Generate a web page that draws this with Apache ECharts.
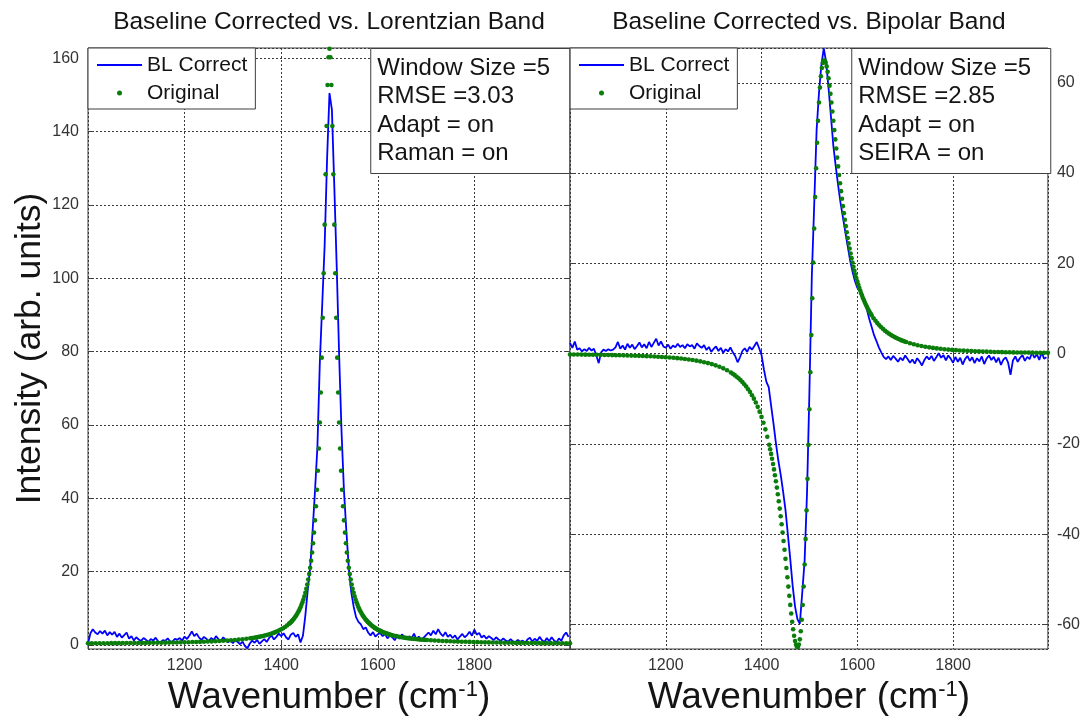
<!DOCTYPE html>
<html>
<head>
<meta charset="utf-8">
<title>Baseline correction: Lorentzian and bipolar bands</title>
<script src="https://cdn.jsdelivr.net/npm/echarts@6.0.0/dist/echarts.min.js"></script>
<style>
  html, body { margin: 0; padding: 0; background: #ffffff; }
  #chart { width: 1083px; height: 723px; }
</style>
</head>
<body>
<div id="chart"></div>
<script>
// Wavenumbers (cm^-1) of the baseline-corrected traces
const blueWn = [
  1000,1005,1010,1015,1020,1025,1030,1035,1040,1045,1050,1055,1060,1065,1070,1075,1080,1085,1090,1095,
  1100,1105,1110,1115,1120,1125,1130,1135,1140,1145,1150,1155,1160,1165,1170,1175,1180,1185,1190,1195,
  1200,1205,1210,1215,1220,1225,1230,1235,1240,1245,1250,1255,1260,1265,1270,1275,1280,1285,1290,1295,
  1300,1305,1310,1315,1320,1325,1330,1335,1340,1345,1350,1355,1360,1365,1370,1375,1380,1385,1390,1395,
  1400,1405,1410,1415,1420,1425,1430,1435,1440,1445,1450,1455,1460,1465,1470,1475,1480,1485,1490,1495,
  1500,1505,1510,1515,1520,1525,1530,1535,1540,1545,1550,1555,1560,1565,1570,1575,1580,1585,1590,1595,
  1600,1605,1610,1615,1620,1625,1630,1635,1640,1645,1650,1655,1660,1665,1670,1675,1680,1685,1690,1695,
  1700,1705,1710,1715,1720,1725,1730,1735,1740,1745,1750,1755,1760,1765,1770,1775,1780,1785,1790,1795,
  1800,1805,1810,1815,1820,1825,1830,1835,1840,1845,1850,1855,1860,1865,1870,1875,1880,1885,1890,1895,
  1900,1905,1910,1915,1920,1925,1930,1935,1940,1945,1950,1955,1960,1965,1970,1975,1980,1985,1990,1995
];

// Baseline-corrected Raman spectrum (Lorentzian band)
const lorCorrected = [
  0.4,3.2,4.3,3.4,2.9,3.8,3.1,3.9,2.6,3.5,2.8,3.6,2.2,3.1,2.0,2.7,3.4,1.7,2.4,1.2,
  2.1,1.5,1.1,1.9,1.4,0.8,1.6,1.2,2.0,1.0,0.6,1.3,1.1,1.8,1.0,0.9,1.7,1.4,1.9,1.2,
  2.3,1.6,2.6,3.7,2.4,3.1,2.0,1.4,2.2,1.7,1.0,1.9,1.3,2.4,1.6,1.1,2.1,1.4,0.7,1.2,
  0.5,1.3,0.8,0.2,0.9,-0.3,-0.9,0.4,1.2,0.6,1.4,0.3,1.0,1.6,0.8,1.9,2.6,1.5,2.2,3.1,
  2.4,3.2,2.1,1.5,2.8,3.3,2.2,2.9,0.7,2.5,8,15,21,31,42,54,77,93,109,132.5,
  150.5,146,125,103,79,58,42,31,21,14.5,10.5,7.6,6.3,5.6,4.3,4.8,3.4,2.6,3.5,2.3,
  2.9,3.3,2.4,3.0,1.8,2.6,2.1,1.3,2.5,1.7,2.9,2.2,1.5,2.4,1.8,3.1,1.6,2.3,1.2,2.0,
  2.7,3.4,2.6,3.9,2.9,4.3,3.1,2.4,3.5,2.2,2.8,1.9,2.6,1.5,2.3,3.0,2.1,2.7,3.6,2.5,
  4.2,2.8,3.3,2.0,2.6,1.7,2.4,1.9,1.3,2.1,1.5,1.1,1.8,1.2,0.9,1.6,1.0,0.7,1.4,0.8,
  1.2,0.6,1.5,2.0,0.9,1.7,1.1,2.2,1.3,0.8,1.9,1.0,2.1,1.2,0.7,1.8,1.1,2.6,3.4,2.2
];

// Baseline-corrected SEIRA spectrum (bipolar band)
const bipCorrected = [
  2.4,1.3,2.7,0.9,1.2,0.5,1.0,0.6,1.3,0.7,1.1,-0.4,-2.1,0.3,0.9,0.6,1.0,0.7,0.9,1.4,
  2.6,1.1,1.8,0.9,2.2,1.3,2.0,1.0,1.7,2.5,1.4,2.1,1.2,2.6,1.5,2.4,3.3,1.8,2.7,1.6,
  1.3,2.0,1.1,1.8,1.4,2.2,1.5,1.9,1.2,2.1,1.6,1.9,1.1,2.3,1.7,1.3,1.9,0.8,1.5,0.4,
  1.1,1.6,0.6,1.3,0.2,1.0,0.5,1.4,0.3,-0.5,-1.9,-0.8,0.6,1.2,0.4,1.5,0.9,1.7,2.6,1.2,
  -0.3,-3.5,-6.2,-7.4,-11.5,-15.5,-19.8,-23.6,-26.8,-30.5,-34.6,-40,-45.5,-51.4,-56,-58.8,-59.8,-53,-45.8,-30.8,
  -8.5,17,33,49.5,57.8,64,67.6,64.5,58.8,52.5,46,41.5,37.3,33.4,30.2,27,23.8,20.6,18.2,16.1,
  14.6,13.9,13.0,11.6,9.8,7.7,5.9,4.1,2.8,1.4,0.3,-0.7,-1.2,-0.6,-1.4,-0.5,-1.1,-1.8,-0.9,-1.5,
  -0.4,-1.2,-2.0,-1.3,-2.2,-1.0,-1.7,-2.6,-1.4,-0.6,-1.3,-0.5,-1.6,-0.8,0.1,-0.9,-0.3,-1.5,-0.4,-1.1,
  -2.0,-0.7,-1.8,-0.9,-2.4,-1.2,-0.5,-1.6,-0.8,-2.1,-1.0,-1.7,-0.6,-2.3,-1.1,-0.4,-1.4,-0.7,-1.9,-0.9,
  -2.5,-1.3,-0.8,-2.0,-4.7,-1.5,-0.6,-1.8,-0.9,-0.3,-1.6,-0.7,-1.2,0.2,-0.9,-0.1,-1.4,0.3,-1.1,-0.8
];

// Wavenumbers (cm^-1) of the original (uncorrected) spectra, denser across the bands
const origWn = [
  1000,1008,1016,1024,1032,1040,1048,1056,1064,1072,1080,1088,1096,1104,1112,1120,1128,1136,1144,1152,
  1160,1168,1176,1184,1192,1200,1208,1216,1224,1232,1240,1248,1256,1264,1272,1280,1288,1296,1304,1312,
  1320,1328,1336,
  1340,1344,1348,1352,1356,1360,1364,1368,1372,1376,1380,1384,1388,1392,1396,1400,1404,1408,1412,1416,
  1418,1420,1422,1424,1426,1428,1430,1432,1434,1436,1438,1440,1442,1444,1446,1448,1450,1452,1454,1456,
  1458,1460,1462,1464,1466,1468,1470,1472,1474,1476,1478,1480,1482,1484,1486,1488,1490,1492,1494,1496,
  1498,1500,1502,1504,1506,1508,1510,1512,1514,1516,1518,1520,1522,1524,1526,1528,1530,1532,1534,1536,
  1538,1540,1542,1544,1546,1548,1550,1552,1554,1556,1558,1560,1562,1564,1566,1568,1570,1572,1574,1576,
  1578,1580,1582,1584,1586,1588,1590,1592,1594,1596,1598,1600,1602,1604,1606,1608,1610,1612,1614,1616,
  1618,1620,1622,1624,1626,1628,1630,
  1634,1638,1642,1646,1650,1654,1658,1662,1666,1670,1674,1678,1682,1686,1690,1694,1698,
  1702,1710,1718,1726,1734,1742,1750,1758,1766,1774,1782,1790,1798,1806,1814,1822,1830,1838,1846,1854,
  1862,1870,1878,1886,1894,1902,1910,1918,1926,1934,1942,1950,1958,1966,1974,1982,1990,1998
];

// Original Raman spectrum (Lorentzian band)
const lorOriginal = [
  0.45,0.46,0.47,0.47,0.48,0.48,0.49,0.50,0.50,0.51,0.52,0.53,0.54,0.55,0.56,0.57,0.58,0.59,0.60,0.62,
  0.63,0.65,0.67,0.69,0.71,0.73,0.76,0.79,0.82,0.85,0.89,0.93,0.97,1.02,1.08,1.14,1.21,1.29,1.37,1.47,
  1.57,1.69,1.82,
  1.9,1.98,2.07,2.17,2.27,2.38,2.5,2.63,2.77,2.93,3.1,3.29,3.5,3.73,3.98,4.26,4.57,4.92,5.31,5.76,
  5.95,6.2,6.5,6.8,7.1,7.5,7.85,8.25,8.7,9.2,9.7,10.3,10.95,11.65,12.4,13.3,14.25,15.3,16.5,17.85,19.35,
  21.03,22.98,25.2,27.73,30.64,33.98,37.84,42.31,47.52,53.58,60.65,68.86,78.36,89.22,101.39,114.63,128.34,141.51,152.69,160.29,
  162.6,
  160.29,152.69,141.51,128.34,114.63,101.39,89.22,78.36,68.86,60.65,53.58,47.52,42.31,37.84,33.98,30.64,27.73,25.2,22.98,21.03,
  19.35,17.85,16.5,15.3,14.25,13.3,12.4,11.65,10.95,10.3,9.7,9.2,8.7,8.25,7.85,7.5,7.1,6.8,6.5,6.2,5.95,
  5.7,5.46,5.24,5.03,4.84,4.66,4.49,4.33,4.17,4.03,3.9,3.77,3.65,3.53,3.42,3.32,3.22,3.13,3.04,2.96,2.87,2.8,2.72,2.65,
  2.52,2.4,2.29,2.19,2.1,2.01,1.93,1.86,1.79,1.73,1.67,1.61,1.56,1.5,1.46,1.42,1.38,
  1.34,1.27,1.2,1.15,1.1,1.05,1.0,0.96,0.92,0.89,0.86,0.83,0.8,0.77,0.74,0.72,0.7,0.68,0.66,0.64,
  0.62,0.6,0.59,0.57,0.56,0.55,0.54,0.53,0.52,0.51,0.5,0.49,0.49,0.48,0.47,0.47,0.46,0.46
];

// Original SEIRA spectrum (bipolar band)
const bipOriginal = [
  -0.18,-0.19,-0.19,-0.2,-0.21,-0.23,-0.24,-0.25,-0.26,-0.28,-0.29,-0.31,-0.33,-0.35,-0.37,-0.39,-0.42,-0.45,-0.48,-0.51,
  -0.54,-0.58,-0.63,-0.67,-0.72,-0.78,-0.84,-0.91,-0.99,-1.08,-1.17,-1.28,-1.41,-1.54,-1.7,-1.88,-2.08,-2.31,-2.58,-2.89,
  -3.25,-3.67,-4.17,
  -4.45,-4.75,-5.09,-5.45,-5.85,-6.28,-6.76,-7.28,-7.86,-8.49,-9.19,-9.96,-10.82,-11.77,-12.83,-14.0,-15.3,-16.76,-18.38,-20.18,
  -21.16,-22.19,-23.28,-24.43,-25.63,-26.91,-28.25,-29.66,-31.13,-32.68,-34.31,-36.0,-37.76,-39.59,-41.48,-43.43,-45.43,-47.46,-49.52,-51.58,
  -53.63,-55.63,-57.55,-59.36,-61.01,-62.45,-63.63,-64.48,-64.94,
  -64.94,-64.4,-63.26,-61.46,-58.93,-55.64,-51.57,-46.7,-41.06,-34.71,-27.72,-20.2,-12.29,-4.12,
  4.12,12.29,20.2,27.72,34.71,41.06,46.7,51.57,55.64,58.93,61.46,63.26,64.4,64.94,
  64.94,64.48,63.63,62.45,61.01,59.36,57.55,55.63,53.63,51.58,49.52,47.46,45.43,43.43,41.48,39.59,37.76,36.0,34.31,32.68,
  31.13,29.66,28.25,26.91,25.63,24.43,23.28,22.19,21.16,
  20.18,19.25,18.38,17.54,16.76,16.01,15.3,14.63,14.0,13.4,12.83,12.28,11.77,11.28,10.82,10.38,9.96,9.57,9.19,8.83,8.49,
  7.86,7.28,6.76,6.28,5.85,5.45,5.09,4.75,4.45,4.17,3.91,3.67,3.46,3.25,3.07,2.89,2.73,
  2.58,2.31,2.08,1.88,1.7,1.54,1.41,1.28,1.17,1.08,0.99,0.91,0.84,0.78,0.72,0.67,0.63,0.58,0.54,0.51,
  0.48,0.45,0.42,0.39,0.37,0.35,0.33,0.31,0.29,0.28,0.26,0.25,0.24,0.23,0.21,0.2,0.19,0.19
];

// Panel titles and fit statistics
const panelTitles = ['Baseline Corrected vs. Lorentzian Band', 'Baseline Corrected vs. Bipolar Band'];
const lorStats = ['Window Size =5', 'RMSE =3.03', 'Adapt = on', 'Raman = on'];
const bipStats = ['Window Size =5', 'RMSE =2.85', 'Adapt = on', 'SEIRA = on'];
const seriesNames = ['BL Correct', 'Original'];

// Axis extents (tight to the data)
const X_MIN = 1000, X_MAX = 1998, X_STEP = 200;
const LOR_Y = [-1.1, 162.8];
const BIP_Y = [-65.4, 67.7];

// ---- styling / layout ----
const FONT = '"Liberation Sans", Arial, Helvetica, sans-serif';
const INK = '#141414';
const LABEL = '#333333';
const FRAME = '#3f3f3f';
const BLUE = '#0000ff';
const GREEN = '#0a7d0a';
const DOTTED = { type: [2, 2], color: '#3a3a3a', width: 1 };
const PLOT_TOP = 48, PLOT_H = 601;
const LEFT_X = 88, LEFT_W = 482;
const RIGHT_X = 570, RIGHT_W = 481;
const PAGE_W = 1083;

const zip = (xs, ys) => xs.map((x, i) => [x, ys[i]]);
const plain = v => String(v);

const inTick = { show: true, inside: true, length: 5, lineStyle: { color: FRAME, width: 1 } };

function bottomX(grid) {
  return {
    type: 'value', gridIndex: grid, min: X_MIN, max: X_MAX, interval: X_STEP, position: 'bottom',
    axisLine: { show: false }, axisTick: inTick,
    axisLabel: { fontSize: 16, color: LABEL, fontFamily: FONT, margin: 9, formatter: plain,
      showMinLabel: false, showMaxLabel: false },
    splitLine: { show: true, lineStyle: DOTTED },
    name: 'Wavenumber (cm{sup|-1})', nameLocation: 'middle', nameGap: 29,
    nameTextStyle: {
      fontSize: 37, color: INK, fontFamily: FONT,
      rich: { sup: { fontSize: 22, color: INK, fontFamily: FONT, verticalAlign: 'top', lineHeight: 18 } }
    }
  };
}

function topX(grid, title) {
  return {
    type: 'value', gridIndex: grid, min: X_MIN, max: X_MAX, interval: X_STEP, position: 'top',
    axisLine: { show: false }, axisTick: inTick, axisLabel: { show: false }, splitLine: { show: false },
    name: title, nameLocation: 'middle', nameGap: 13,
    nameTextStyle: { fontSize: 24.5, color: INK, fontFamily: FONT }
  };
}

function yAxis(grid, ext, split, side, labelled, extra) {
  return Object.assign({
    type: 'value', gridIndex: grid, min: ext[0], max: ext[1], splitNumber: split, position: side,
    axisLine: { show: false }, axisTick: inTick,
    axisLabel: labelled
      ? { fontSize: 16, color: LABEL, fontFamily: FONT, margin: 9, formatter: plain,
          showMinLabel: false, showMaxLabel: false }
      : { show: false },
    splitLine: labelled ? { show: true, lineStyle: DOTTED } : { show: false }
  }, extra || {});
}

function legendAt(left) {
  return {
    left: left, top: PLOT_TOP, orient: 'vertical', selectedMode: false,
    data: [
      { name: seriesNames[0], itemStyle: { opacity: 0 } },
      { name: seriesNames[1], itemStyle: { opacity: 1 } }
    ],
    itemWidth: 45, itemHeight: 5, itemGap: 4, padding: [5, 8, 4, 8],
    backgroundColor: '#ffffff', borderColor: FRAME, borderWidth: 1, borderRadius: 0,
    textStyle: { fontSize: 21, color: INK, fontFamily: FONT, lineHeight: 24 }
  };
}

function statsBox(rightEdge, lines) {
  return {
    text: lines.join('\n'), right: PAGE_W - rightEdge, top: PLOT_TOP,
    padding: [6, 20, 6, 7], backgroundColor: '#ffffff', borderColor: FRAME, borderWidth: 1,
    textStyle: { fontSize: 24, fontWeight: 'normal', color: INK, fontFamily: FONT, lineHeight: 28.5 }
  };
}

const dotStyle = { color: GREEN, opacity: 1 };

const chart = echarts.init(document.getElementById('chart'), null, { renderer: 'canvas' });

chart.setOption({
  animation: false,
  backgroundColor: '#ffffff',
  textStyle: { fontFamily: FONT },
  grid: [
    { left: LEFT_X, top: PLOT_TOP, width: LEFT_W, height: PLOT_H, show: true,
      borderColor: FRAME, borderWidth: 1, backgroundColor: '#ffffff', containLabel: false },
    { left: RIGHT_X, top: PLOT_TOP, width: RIGHT_W, height: PLOT_H, show: true,
      borderColor: FRAME, borderWidth: 1, backgroundColor: '#ffffff', containLabel: false }
  ],
  xAxis: [
    bottomX(0), topX(0, panelTitles[0]),
    bottomX(1), topX(1, panelTitles[1])
  ],
  yAxis: [
    yAxis(0, LOR_Y, 8, 'left', true, {
      name: 'Intensity (arb. units)', nameLocation: 'middle', nameGap: 37,
      nameTextStyle: { fontSize: 35.5, color: INK, fontFamily: FONT }
    }),
    yAxis(0, LOR_Y, 8, 'right', false),
    yAxis(1, BIP_Y, 7, 'right', true),
    yAxis(1, BIP_Y, 7, 'left', false)
  ],
  legend: [legendAt(LEFT_X), legendAt(RIGHT_X)],
  title: [statsBox(LEFT_X + LEFT_W, lorStats), statsBox(RIGHT_X + RIGHT_W, bipStats)],
  series: [
    { name: seriesNames[0], type: 'line', xAxisIndex: 0, yAxisIndex: 0, data: zip(blueWn, lorCorrected),
      symbol: 'none', lineStyle: { color: BLUE, width: 1.8 }, itemStyle: { color: BLUE }, z: 3 },
    { name: seriesNames[1], type: 'scatter', xAxisIndex: 0, yAxisIndex: 0, data: zip(origWn, lorOriginal),
      symbol: 'circle', symbolSize: 4.6, itemStyle: dotStyle, z: 4 },
    { name: seriesNames[0], type: 'line', xAxisIndex: 2, yAxisIndex: 2, data: zip(blueWn, bipCorrected),
      symbol: 'none', lineStyle: { color: BLUE, width: 1.8 }, itemStyle: { color: BLUE }, z: 3 },
    { name: seriesNames[1], type: 'scatter', xAxisIndex: 2, yAxisIndex: 2, data: zip(origWn, bipOriginal),
      symbol: 'circle', symbolSize: 4.6, itemStyle: dotStyle, z: 4 }
  ]
});
</script>
</body>
</html>
